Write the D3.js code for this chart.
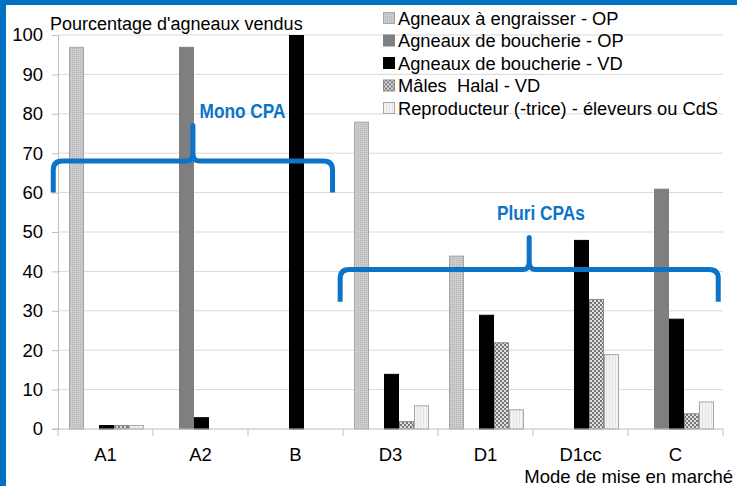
<!DOCTYPE html>
<html>
<head>
<meta charset="utf-8">
<script src="https://cdn.jsdelivr.net/npm/d3@7/dist/d3.min.js"></script>
<style>
  html, body { margin: 0; padding: 0; background: #fff; }
  svg { display: block; font-family: "Liberation Sans", Arial, sans-serif; }
</style>
</head>
<body>
<svg width="737" height="486"></svg>
<script>
// categories and series
const categories = ["A1", "A2", "B", "D3", "D1", "D1cc", "C"];
const seriesNames = [
  "Agneaux à engraisser - OP",
  "Agneaux de boucherie - OP",
  "Agneaux de boucherie - VD",
  "Mâles  Halal - VD",
  "Reproducteur (-trice) - éleveurs ou CdS"
];
const engraisserOP = [97, 0, 0, 78, 44, 0, 0];
const boucherieOP  = [0, 97, 0, 0, 0, 0, 61];
const boucherieVD  = [1, 3, 100, 14, 29, 48, 28];
const halalVD      = [1, 0, 0, 2, 22, 33, 4];
const reproducteur = [1, 0, 0, 6, 5, 19, 7];
const yTicks = [0, 10, 20, 30, 40, 50, 60, 70, 80, 90, 100];

// annotation braces (x in category units, y in %)
const braces = [
  { label: "Mono CPA",   x0: -0.05, x1: 2.89, peak: 1.42, line: 68, end: 60, top: 77, tx: 1.49, ty: 79, tw: 86 },
  { label: "Pluri CPAs", x0: 2.97,  x1: 6.95, peak: 4.96, line: 40.5, end: 32.3, top: 48.6, tx: 4.62, ty: 53, tw: 88 }
];

const allSeries = [engraisserOP, boucherieOP, boucherieVD, halalVD, reproducteur];

const svg = d3.select("svg");

// patterns
const defs = svg.append("defs");
const p1 = defs.append("pattern").attr("id", "pat1").attr("width", 2).attr("height", 2).attr("patternUnits", "userSpaceOnUse");
p1.append("rect").attr("width", 2).attr("height", 2).attr("fill", "#cdcdcd");
p1.append("rect").attr("width", 1).attr("height", 1).attr("fill", "#b4b4b4");
const p4 = defs.append("pattern").attr("id", "pat4").attr("width", 4).attr("height", 4).attr("patternUnits", "userSpaceOnUse");
p4.append("rect").attr("width", 4).attr("height", 4).attr("fill", "#e0e0e0");
p4.append("rect").attr("width", 2).attr("height", 2).attr("fill", "#777");
p4.append("rect").attr("x", 2).attr("y", 2).attr("width", 2).attr("height", 2).attr("fill", "#777");
const p5 = defs.append("pattern").attr("id", "pat5").attr("width", 3).attr("height", 3).attr("patternUnits", "userSpaceOnUse");
p5.append("rect").attr("width", 3).attr("height", 3).attr("fill", "#f4f4f4");
p5.append("rect").attr("width", 1).attr("height", 3).attr("fill", "#e2e2e2");

const fills = ["url(#pat1)", "#7f7f7f", "#000000", "url(#pat4)", "url(#pat5)"];
const strokes = ["#a6a6a6", "#7f7f7f", "#000000", "#8a8a8a", "#a6a6a6"];

// frame
svg.append("rect").attr("width", 737).attr("height", 486).attr("fill", "#fff");
svg.append("rect").attr("width", 737).attr("height", 5).attr("fill", "#0070c0");
svg.append("rect").attr("width", 6).attr("height", 486).attr("fill", "#0070c0");

const plotL = 58, plotR = 723, plotT = 35, plotB = 429;

const x = d3.scaleBand().domain(categories).range([plotL, plotR]);
const xIdx = d3.scaleLinear().domain([0, categories.length]).range([plotL, plotR]);
const xs = d3.scaleBand().domain(d3.range(seriesNames.length)).range([11, x.bandwidth() - 9]);
const y = d3.scaleLinear().domain([0, 100]).range([plotB, plotT]);

// grid
svg.append("g")
  .selectAll("line").data(yTicks.filter(d => d > 0)).join("line")
  .attr("x1", plotL).attr("x2", plotR)
  .attr("y1", d => y(d)).attr("y2", d => y(d))
  .attr("stroke", "#d9d9d9").attr("stroke-width", 1);

// y axis
const yAxis = svg.append("g").attr("transform", `translate(${plotL},0)`)
  .call(d3.axisLeft(y).tickValues(yTicks).tickSize(6).tickPadding(9));
yAxis.select(".domain").attr("stroke", "#bfbfbf");
yAxis.selectAll(".tick line").attr("stroke", "#bfbfbf");
yAxis.selectAll(".tick text").attr("font-size", 18.5).attr("fill", "#000")
  .attr("font-family", "Liberation Sans, Arial, sans-serif");

// bars
const groups = svg.append("g").selectAll("g").data(allSeries).join("g")
  .attr("fill", (d, i) => fills[i]).attr("stroke", (d, i) => strokes[i]);
groups.each(function(vals, si) {
  d3.select(this).selectAll("rect")
    .data(vals.map((v, ci) => ({ v, c: categories[ci] })).filter(d => d.v > 0))
    .join("rect")
    .attr("x", d => x(d.c) + xs(si) + 0.5)
    .attr("width", xs.bandwidth() - 1)
    .attr("y", d => y(d.v) + 0.5)
    .attr("height", d => y(0) - y(d.v) - 0.5)
    .attr("stroke-width", 1);
});

// x axis
const xAxisG = svg.append("g").attr("transform", `translate(0,${plotB})`);
xAxisG.append("line").attr("x1", plotL - 6).attr("x2", plotR).attr("stroke", "#bfbfbf");
xAxisG.selectAll(".tk").data(d3.range(categories.length + 1)).join("line")
  .attr("x1", d => xIdx(d)).attr("x2", d => xIdx(d))
  .attr("y1", 0).attr("y2", 7).attr("stroke", "#bfbfbf");
xAxisG.selectAll("text").data(categories).join("text")
  .attr("x", d => x(d) + x.bandwidth() / 2)
  .attr("y", 32)
  .attr("text-anchor", "middle")
  .attr("font-size", 18.5)
  .text(d => d);

// titles
svg.append("text").attr("x", 50).attr("y", 30).attr("font-size", 18).text("Pourcentage d'agneaux vendus");
svg.append("text").attr("x", 733).attr("y", 483).attr("text-anchor", "end").attr("font-size", 18.5).text("Mode de mise en marché");

// legend
const legend = svg.append("g").attr("transform", "translate(383,0)");
const li = legend.selectAll("g").data(seriesNames).join("g")
  .attr("transform", (d, i) => `translate(0,${18 + i * 22.5})`);
li.append("rect").attr("x", 0.5).attr("y", -5.5).attr("width", 11).attr("height", 11)
  .attr("fill", (d, i) => fills[i]).attr("stroke", (d, i) => strokes[i]);
li.append("text").attr("x", 15).attr("y", 6.5).attr("font-size", 18.3)
  .style("white-space", "pre").text(d => d);

// braces
function bracePath(b) {
  const l = xIdx(b.x0), r = xIdx(b.x1), p = xIdx(b.peak);
  const ly = y(b.line), ey = y(b.end), ty = y(b.top);
  const rad = 9;
  const path = d3.path();
  path.moveTo(l, ey);
  path.lineTo(l, ly + rad);
  path.quadraticCurveTo(l, ly, l + rad, ly);
  path.lineTo(p - 6, ly);
  path.quadraticCurveTo(p, ly, p, ly - 8);
  path.lineTo(p, ty);
  path.lineTo(p, ly - 8);
  path.quadraticCurveTo(p, ly, p + 6, ly);
  path.lineTo(r - rad, ly);
  path.quadraticCurveTo(r, ly, r, ly + rad);
  path.lineTo(r, ey);
  return path.toString();
}
const ann = svg.append("g");
ann.selectAll("path").data(braces).join("path")
  .attr("d", bracePath)
  .attr("fill", "none").attr("stroke", "#0b74c8").attr("stroke-width", 5)
  .attr("stroke-linejoin", "round").attr("stroke-linecap", "butt");
ann.selectAll("text").data(braces).join("text")
  .attr("x", d => xIdx(d.tx)).attr("y", d => y(d.ty))
  .attr("font-family", "'Liberation Sans Narrow', 'Arial Narrow', 'Liberation Sans', sans-serif")
  .attr("font-weight", "bold").attr("font-size", 20)
  .attr("fill", "#0b74c8")
  .attr("textLength", d => d.tw).attr("lengthAdjust", "spacingAndGlyphs")
  .text(d => d.label);
</script>
</body>
</html>
